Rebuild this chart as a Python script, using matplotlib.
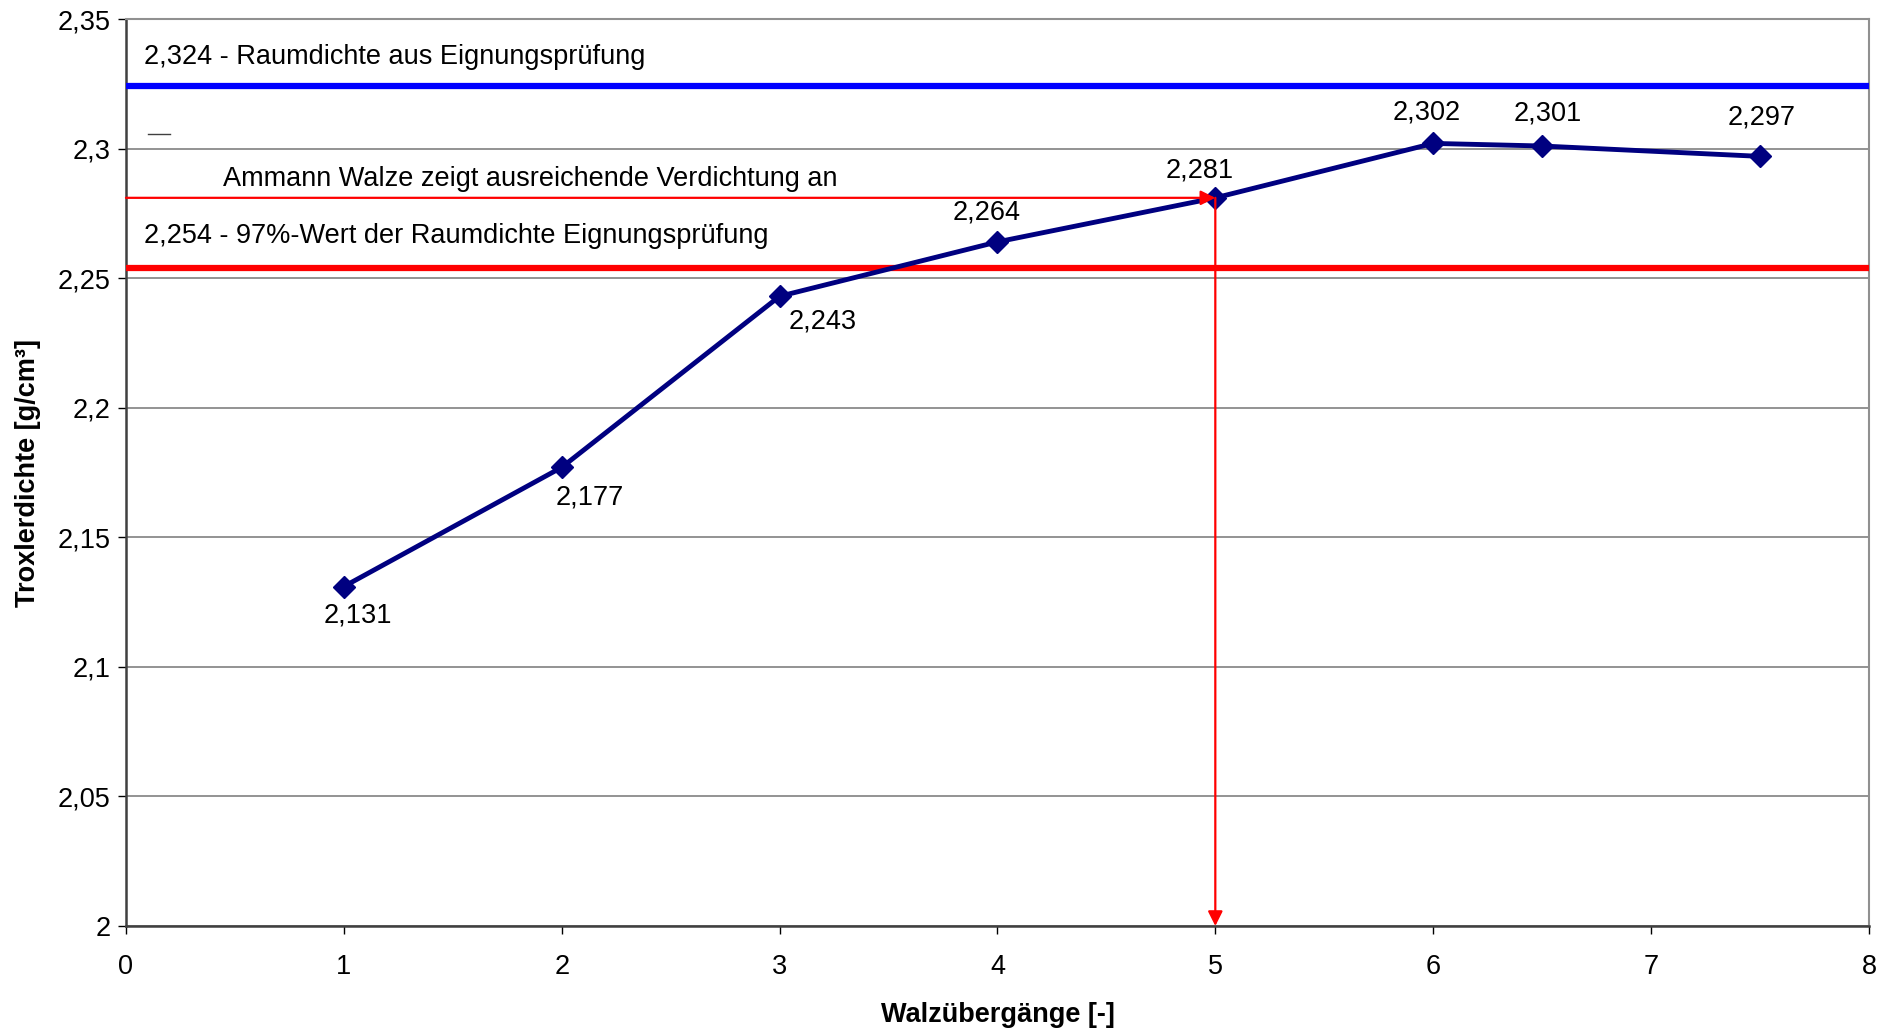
import matplotlib
matplotlib.use("Agg")
import matplotlib.pyplot as plt
from matplotlib.ticker import FixedLocator

# Data
passes = [1, 2, 3, 4, 5, 6, 6.5, 7.5]
density = [2.131, 2.177, 2.243, 2.264, 2.281, 2.302, 2.301, 2.297]
labels = ["2,131", "2,177", "2,243", "2,264", "2,281", "2,302", "2,301", "2,297"]
label_offsets = [(10, -21), (20, -22), (31, -18), (-8, 21), (-11.5, 20), (-4.5, 22.5), (4.4, 23.5), (1, 28)]
ref_density = 2.324
ref97_density = 2.254
ammann_density = 2.281
ammann_pass = 5
xticks = [0, 1, 2, 3, 4, 5, 6, 7, 8]
yticks = [2.0, 2.05, 2.1, 2.15, 2.2, 2.25, 2.3, 2.35]
ytick_labels = ["2", "2,05", "2,1", "2,15", "2,2", "2,25", "2,3", "2,35"]

plt.rcParams['font.family'] = ['Liberation Sans', 'DejaVu Sans']
FS = 19.5

fig = plt.figure(figsize=(18.97, 10.28), dpi=100)
ax = fig.add_axes([0.0664, 0.0992, 0.9188, 0.8823])

ax.set_xlim(0, 8)
ax.set_ylim(2.0, 2.35)
ax.xaxis.set_major_locator(FixedLocator(xticks))
ax.yaxis.set_major_locator(FixedLocator(yticks))
ax.set_yticklabels(ytick_labels)
ax.tick_params(axis='both', labelsize=FS, direction='out', length=6, width=1, color='black')
ax.tick_params(axis='x', pad=14)
ax.tick_params(axis='y', pad=5)

ax.yaxis.grid(True, color='#808080', linewidth=1.2)
ax.set_axisbelow(True)
for side in ['left', 'bottom']:
    ax.spines[side].set_color('#404040')
    ax.spines[side].set_linewidth(1.8)
for side in ['top', 'right']:
    ax.spines[side].set_color('#909090')
    ax.spines[side].set_linewidth(1.5)

# Reference lines
ax.axhline(ref_density, color='#0000FF', linewidth=4.5, zorder=3)
ax.axhline(ref97_density, color='#FF0000', linewidth=4.5, zorder=3)

# Small stray dash
ax.plot([0.1, 0.2], [2.3055, 2.3055], color='#404040', linewidth=1)

# Data line
ax.plot(passes, density, color='#000080', linewidth=3.5, marker='D', markersize=11, zorder=5)
for x, y, t, off in zip(passes, density, labels, label_offsets):
    ax.annotate(t, (x, y), xytext=off, textcoords='offset points', ha='center', va='center', fontsize=FS)

# Arrows
ax.annotate('', xy=(ammann_pass, ammann_density), xytext=(0, ammann_density),
            arrowprops=dict(arrowstyle='-|>', color='#FF0000', lw=1.6, mutation_scale=22, shrinkA=0, shrinkB=0), zorder=6)
ax.annotate('', xy=(ammann_pass, 2.0), xytext=(ammann_pass, ammann_density),
            arrowprops=dict(arrowstyle='-|>', color='#FF0000', lw=1.6, mutation_scale=22, shrinkA=0, shrinkB=0), zorder=6)

# Text annotations
ax.text(0.083, 2.3355, "2,324 - Raumdichte aus Eignungsprüfung", fontsize=FS, va='center', ha='left')
ax.text(0.444, 2.2883, "Ammann Walze zeigt ausreichende Verdichtung an", fontsize=FS, va='center', ha='left')
ax.text(0.083, 2.2664, "2,254 - 97%-Wert der Raumdichte Eignungsprüfung", fontsize=FS, va='center', ha='left')

ax.set_xlabel("Walzübergänge [-]", fontsize=FS, fontweight='bold', labelpad=16)
ax.set_ylabel("Troxlerdichte [g/cm³]", fontsize=FS, fontweight='bold', labelpad=12)

fig.savefig("out.png", dpi=100)
